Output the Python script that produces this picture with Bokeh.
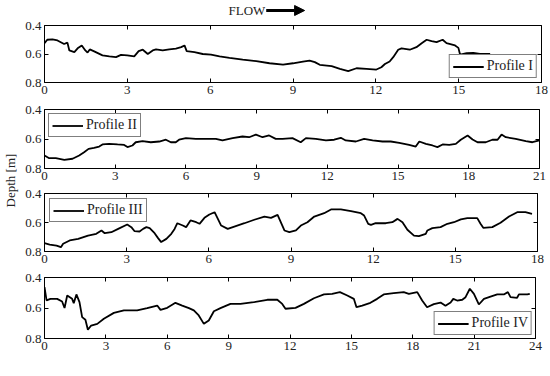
import math
from bokeh.plotting import figure
from bokeh.models import (Range1d, FixedTicker, LinearAxis, Legend, LegendItem,
                          Label, Arrow, NormalHead)
from bokeh.layouts import column, row
from bokeh.embed import file_html
from bokeh.resources import INLINE

FONT = "Times New Roman, Liberation Serif, serif"
TXT = "#222222"

# ---------------- data (distance [m], depth [m]) ----------------
p1_x = [0, 0.1, 0.29, 0.47, 0.71, 0.83, 0.9, 1.08, 1.2, 1.35, 1.48, 1.56, 1.64, 1.8, 2.1,
        2.35, 2.59, 2.77, 3.0, 3.25, 3.41, 3.56, 3.74, 3.92, 4.04, 4.28, 4.52, 4.76, 4.95,
        5.07, 5.15, 5.43, 5.73, 6.03, 6.34, 6.7, 7.18, 7.67, 8.15, 8.64, 9.0, 9.36, 9.6,
        9.79, 9.97, 10.4, 10.7, 11.0, 11.3, 11.66, 12.02, 12.2, 12.33, 12.5, 12.63, 12.81,
        12.93, 13.23, 13.47, 13.66, 13.84, 14.02, 14.2, 14.42, 14.56, 14.87, 14.99, 15.05,
        15.29, 15.53, 15.77, 16.14]
p1_d = [0.524, 0.50, 0.498, 0.505, 0.53, 0.52, 0.575, 0.587, 0.56, 0.54, 0.575, 0.59, 0.568,
        0.582, 0.61, 0.617, 0.622, 0.606, 0.61, 0.617, 0.58, 0.57, 0.60, 0.575, 0.568, 0.575,
        0.568, 0.563, 0.552, 0.54, 0.58, 0.587, 0.60, 0.604, 0.617, 0.627, 0.64, 0.65, 0.665,
        0.674, 0.665, 0.653, 0.646, 0.657, 0.676, 0.685, 0.704, 0.72, 0.70, 0.704, 0.709,
        0.693, 0.67, 0.653, 0.622, 0.57, 0.56, 0.57, 0.552, 0.524, 0.50, 0.51, 0.517, 0.50,
        0.524, 0.54, 0.557, 0.604, 0.594, 0.592, 0.60, 0.60]

p2_x = [0, 0.2, 0.48, 0.84, 1.19, 1.47, 1.68, 1.87, 2.1, 2.32, 2.46, 2.74, 3.1, 3.38, 3.52,
        3.73, 3.87, 4.16, 4.51, 4.87, 5.15, 5.36, 5.57, 5.71, 6.0, 6.42, 6.84, 7.27, 7.55,
        7.98, 8.4, 8.68, 8.97, 9.25, 9.53, 9.81, 10.1, 10.52, 10.87, 11.09, 11.51, 11.94,
        12.29, 12.57, 12.78, 13.21, 13.56, 13.92, 14.34, 14.69, 15.05, 15.47, 15.75, 15.9,
        16.18, 16.46, 16.67, 16.89, 17.17, 17.45, 17.66, 17.95, 18.16, 18.37, 18.72, 19.0,
        19.22, 19.39, 19.57, 19.99, 20.42, 20.7, 21.0]
p2_d = [0.712, 0.73, 0.73, 0.741, 0.734, 0.712, 0.69, 0.667, 0.66, 0.651, 0.637, 0.633,
        0.637, 0.64, 0.655, 0.644, 0.622, 0.615, 0.622, 0.617, 0.605, 0.622, 0.622, 0.605,
        0.594, 0.599, 0.599, 0.599, 0.61, 0.594, 0.583, 0.588, 0.57, 0.588, 0.576, 0.599,
        0.599, 0.594, 0.622, 0.594, 0.599, 0.61, 0.605, 0.592, 0.61, 0.617, 0.599, 0.61,
        0.617, 0.617, 0.626, 0.64, 0.651, 0.617, 0.633, 0.644, 0.655, 0.637, 0.64, 0.633,
        0.605, 0.576, 0.603, 0.622, 0.622, 0.605, 0.605, 0.57, 0.588, 0.599, 0.615, 0.622,
        0.61]

p3_x = [0, 0.19, 0.44, 0.6, 0.68, 0.92, 1.23, 1.59, 1.89, 2.08, 2.2, 2.44, 2.69, 3.02, 3.17,
        3.29, 3.47, 3.6, 3.72, 3.84, 4.02, 4.14, 4.26, 4.45, 4.63, 4.75, 4.85, 5.05, 5.17,
        5.33, 5.54, 5.66, 5.84, 6.02, 6.21, 6.33, 6.45, 6.69, 6.93, 7.3, 7.66, 8.03, 8.27,
        8.51, 8.76, 8.94, 9.18, 9.36, 9.6, 9.85, 10.21, 10.46, 10.82, 11.19, 11.55, 11.67,
        11.82, 11.92, 12.09, 12.46, 12.7, 12.89, 13.07, 13.25, 13.49, 13.67, 13.92, 13.98,
        14.16, 14.46, 14.71, 14.95, 15.2, 15.44, 15.8, 15.92, 16.02, 16.35, 16.65, 16.96,
        17.26, 17.56, 17.8]
p3_d = [0.743, 0.752, 0.759, 0.77, 0.747, 0.724, 0.713, 0.69, 0.678, 0.655, 0.674, 0.667,
        0.644, 0.614, 0.632, 0.66, 0.662, 0.644, 0.632, 0.639, 0.674, 0.706, 0.735, 0.713,
        0.678, 0.644, 0.605, 0.621, 0.632, 0.586, 0.598, 0.609, 0.568, 0.545, 0.529, 0.575,
        0.621, 0.644, 0.628, 0.605, 0.581, 0.559, 0.568, 0.547, 0.655, 0.667, 0.655, 0.621,
        0.598, 0.559, 0.536, 0.51, 0.51, 0.522, 0.536, 0.552, 0.609, 0.616, 0.605, 0.605,
        0.598, 0.575, 0.598, 0.65, 0.69, 0.694, 0.678, 0.655, 0.639, 0.632, 0.609, 0.598,
        0.579, 0.57, 0.57, 0.609, 0.637, 0.632, 0.602, 0.559, 0.529, 0.529, 0.54]

p4_x = [0, 0.1, 0.29, 0.62, 0.86, 0.98, 1.11, 1.35, 1.43, 1.56, 1.71, 1.84, 2.0, 2.12, 2.28,
        2.58, 2.9, 3.39, 3.88, 4.53, 5.02, 5.51, 5.67, 6.0, 6.4, 6.73, 7.06, 7.3, 7.54, 7.79,
        8.03, 8.28, 8.6, 9.09, 9.58, 10.23, 10.89, 11.38, 11.62, 11.78, 12.27, 12.68, 13.17,
        13.66, 14.06, 14.44, 14.8, 15.12, 15.25, 15.53, 15.93, 16.26, 16.58, 17.07, 17.56,
        17.81, 18.22, 18.46, 18.7, 19.03, 19.36, 19.6, 19.85, 19.98, 20.17, 20.42, 20.58,
        20.79, 20.99, 21.23, 21.48, 21.8, 22.13, 22.45, 22.65, 22.78, 23.1, 23.19, 23.6,
        23.72]
p4_d = [0.463, 0.55, 0.54, 0.54, 0.557, 0.60, 0.518, 0.54, 0.568, 0.511, 0.562, 0.66, 0.677,
        0.743, 0.715, 0.704, 0.671, 0.632, 0.616, 0.616, 0.601, 0.584, 0.612, 0.599, 0.566,
        0.584, 0.601, 0.616, 0.649, 0.704, 0.682, 0.621, 0.601, 0.573, 0.573, 0.562, 0.546,
        0.546, 0.573, 0.605, 0.599, 0.573, 0.536, 0.511, 0.507, 0.496, 0.518, 0.54, 0.595,
        0.584, 0.566, 0.54, 0.511, 0.503, 0.496, 0.507, 0.496, 0.551, 0.595, 0.575, 0.564,
        0.586, 0.564, 0.54, 0.551, 0.546, 0.529, 0.474, 0.507, 0.577, 0.54, 0.525, 0.511,
        0.511, 0.496, 0.529, 0.533, 0.511, 0.511, 0.507]

x_max = [18, 21, 18, 24]
x_step = 3
y_ticks = [0.4, 0.6, 0.8]
names = ["Profile I", "Profile II", "Profile III", "Profile IV"]
legend_loc = ["bottom_right", "top_left", "top_left", "bottom_right"]

# ---------------- layout geometry (pixels) ----------------
LBL_W = 22           # width of the strip holding "Depth [m]"
COL_W = 528          # width of the panel column
# per panel: left border, frame width, frame height, top border, bottom border, legend margin
geom = [
    (20, 497, 57, 7, 20, 4),
    (20, 495, 59, 7, 18, 4),
    (21, 493, 58, 7, 19, 5),
    (22, 491, 61, 7, 38, 3),
]
HEAD_H = 18


def style_axis(ax, show_labels=True):
    ax.major_tick_in = 4
    ax.major_tick_out = 0
    ax.minor_tick_in = 0
    ax.minor_tick_out = 0
    ax.axis_line_color = None
    ax.major_tick_line_color = "black"
    ax.major_tick_line_width = 1
    ax.major_label_text_font = FONT
    if show_labels:
        ax.major_label_text_color = TXT
        ax.major_label_text_font_size = "13px"
        ax.major_label_standoff = 3
    else:
        ax.major_label_text_color = None
        ax.major_label_text_font_size = "1px"
        ax.major_label_standoff = 0


def make_panel(i, xs, ds):
    left, fw, fh, top, bottom, lm = geom[i]
    xm = x_max[i]
    p = figure(frame_width=fw, frame_height=fh,
               min_border_left=left, min_border_right=COL_W - left - fw,
               min_border_top=top, min_border_bottom=bottom,
               x_range=Range1d(0, xm), y_range=Range1d(0.8, 0.4),
               x_axis_location=None, y_axis_location=None,
               output_backend="svg", toolbar_location=None)
    p.grid.visible = False
    p.outline_line_color = "black"
    p.outline_line_width = 1
    p.background_fill_color = "white"
    p.border_fill_color = "white"

    xt = FixedTicker(ticks=list(range(0, xm + 1, x_step)), minor_ticks=[])
    yt = FixedTicker(ticks=y_ticks, minor_ticks=[])
    for loc, tick, lab in (("below", xt, True), ("above", xt, False),
                           ("left", yt, True), ("right", yt, False)):
        ax = LinearAxis(ticker=tick)
        style_axis(ax, lab)
        p.add_layout(ax, loc)

    r = p.line(xs, ds, line_color="black", line_width=1.8)
    leg = Legend(items=[LegendItem(label=names[i], renderers=[r])],
                 location=legend_loc[i], margin=lm, padding=3, spacing=0,
                 glyph_width=31, glyph_height=13, label_height=13, label_standoff=3,
                 label_text_font=FONT, label_text_font_size="14px",
                 label_text_color=TXT, border_line_color="black",
                 border_line_width=1, background_fill_color="white",
                 background_fill_alpha=1.0)
    p.add_layout(leg)
    return p


panels = [make_panel(0, p1_x, p1_d), make_panel(1, p2_x, p2_d),
          make_panel(2, p3_x, p3_d), make_panel(3, p4_x, p4_d)]

# Distance label below last panel
p4 = panels[3]
p4.add_layout(Label(x=13.0, y=0.984, text="Distance [m]", text_font=FONT,
                    text_font_size="13px", text_color=TXT, text_align="center",
                    text_baseline="middle"))

# header with FLOW arrow (same x scale as panel 1)
left0, fw0 = geom[0][0], geom[0][1]
head = figure(frame_width=fw0, frame_height=HEAD_H,
              min_border_left=left0, min_border_right=COL_W - left0 - fw0,
              min_border_top=0, min_border_bottom=0,
              x_range=Range1d(0, x_max[0]), y_range=Range1d(0, HEAD_H),
              x_axis_location=None, y_axis_location=None,
              output_backend="svg", toolbar_location=None)
head.grid.visible = False
head.outline_line_color = None
head.add_layout(Label(x=8.0, y=HEAD_H - 10, text="FLOW", text_font=FONT,
                      text_font_size="13px", text_color=TXT, text_align="right",
                      text_baseline="middle"))
head.add_layout(Arrow(x_start=8.03, y_start=HEAD_H - 10, x_end=9.42, y_end=HEAD_H - 10,
                      line_width=3, line_color="black",
                      end=NormalHead(size=10, fill_color="black", line_color="black")))

col = column(head, *panels, spacing=0)
total_h = HEAD_H + sum(g[2] + g[3] + g[4] for g in geom)

# strip with the rotated y label
ylab = figure(frame_width=LBL_W, frame_height=total_h,
              min_border_left=0, min_border_right=0, min_border_top=0, min_border_bottom=0,
              x_range=Range1d(0, LBL_W), y_range=Range1d(0, total_h),
              x_axis_location=None, y_axis_location=None,
              output_backend="svg", toolbar_location=None)
ylab.grid.visible = False
ylab.outline_line_color = None
ylab.add_layout(Label(x=10, y=total_h - 180, text="Depth [m]", angle=math.pi / 2,
                      text_font=FONT, text_font_size="13px", text_color=TXT,
                      text_align="center", text_baseline="middle"))

layout = row(ylab, col, spacing=0)

open("out.html", "w").write(file_html(layout, INLINE))
